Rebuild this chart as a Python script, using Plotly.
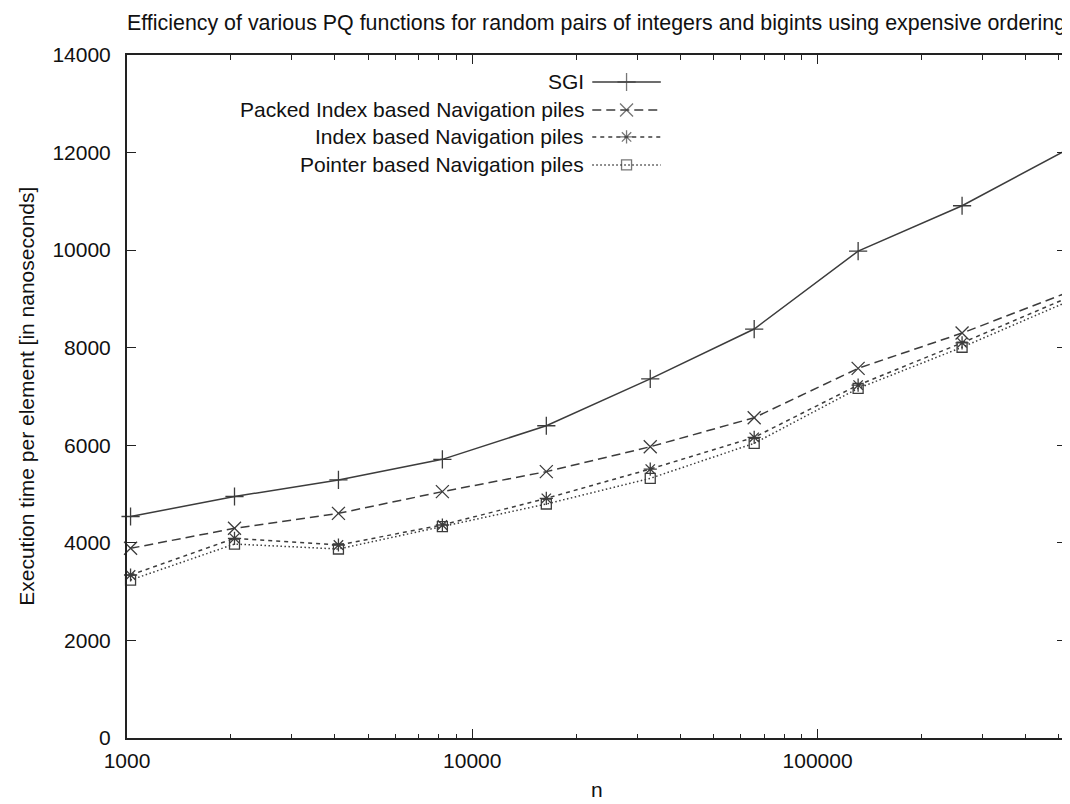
import plotly.graph_objects as go

# ---- data ----
n_values = [1024, 2048, 4096, 8192, 16384, 32768, 65536, 131072, 262144, 524288]
sgi = [4540, 4950, 5290, 5712, 6400, 7360, 8383, 9980, 10910, 12050]
packed_index = [3888, 4298, 4605, 5050, 5460, 5970, 6565, 7577, 8300, 9120]
index_based = [3341, 4093, 3956, 4366, 4913, 5513, 6163, 7235, 8100, 9010]
pointer_based = [3238, 3976, 3874, 4331, 4796, 5322, 6040, 7167, 8010, 8930]

series_names = ["SGI", "Packed Index based Navigation piles",
                "Index based Navigation piles", "Pointer based Navigation piles"]
series_values = [sgi, packed_index, index_based, pointer_based]

y_tick_vals = [0, 2000, 4000, 6000, 8000, 10000, 12000, 14000]
y_tick_labels = ["0", "2000", "4000", "6000", "8000", "10000", "12000", "14000"]
x_major_ticks = [1000, 10000, 100000]
x_tick_labels = ["1000", "10000", "100000"]
x_minor_ticks = [2000, 3000, 4000, 5000, 6000, 7000, 8000, 9000,
                 20000, 30000, 40000, 50000, 60000, 70000, 80000, 90000,
                 200000, 300000, 400000, 500000]

title_text = "Efficiency of various PQ functions for random pairs of integers and bigints using expensive ordering"
x_title = "n"
y_title = "Execution time per element [in nanoseconds]"

# ---- styles ----
FONT = "Liberation Sans, Arial, Helvetica, sans-serif"
FS = 21
COL = "#3c3c3c"
TXT = "#111"
styles = [
    dict(dash="solid", symbol="cross-thin-open", size=13),
    dict(dash="9px,5px", symbol="x-thin-open", size=13),
    dict(dash="4px,4px", symbol="asterisk-open", size=11),
    dict(dash="1.5px,2.5px", symbol="square-open", size=10),
]

# the page body has an 8px margin, so the figure is sized to fit the window
W, H = 1062, 796

fig = go.Figure()
for name, vals, st in zip(series_names, series_values, styles):
    fig.add_trace(go.Scatter(
        x=n_values, y=vals, name=name, mode="lines+markers",
        line=dict(color=COL, width=1.5, dash=st["dash"]),
        marker=dict(symbol=st["symbol"], size=st["size"], color=COL,
                    line=dict(color=COL, width=1.3)),
        showlegend=False, cliponaxis=False,
    ))

# ---- gnuplot-style legend (text left, sample right), on an overlay axis ----
leg_text_x = 0.489
leg_x0, leg_x1 = 0.4955, 0.5685
leg_rows = [0.9605, 0.9195, 0.880, 0.839]
for name, st, yr in zip(series_names, styles, leg_rows):
    fig.add_trace(go.Scatter(
        x=[leg_x0, (leg_x0 + leg_x1) / 2, leg_x1], y=[yr, yr, yr],
        xaxis="x2", yaxis="y2", mode="lines+markers",
        line=dict(color=COL, width=1.5, dash=st["dash"]),
        marker=dict(symbol=st["symbol"], size=[0, st["size"], 0], color=COL,
                    line=dict(color=COL, width=1.3)),
        showlegend=False, hoverinfo="skip", cliponaxis=False,
    ))
    fig.add_annotation(text=name, x=leg_text_x, y=yr, xref="paper", yref="paper",
                       xanchor="right", yanchor="middle", showarrow=False,
                       font=dict(family=FONT, size=FS, color=TXT))

# axis titles as annotations for exact placement
fig.add_annotation(text=x_title, x=0.5, y=-0.0761, xref="paper", yref="paper",
                   xanchor="center", yanchor="middle", showarrow=False,
                   font=dict(family=FONT, size=FS, color=TXT))
fig.add_annotation(text=y_title, x=-0.1073, y=0.5, xref="paper", yref="paper",
                   xanchor="center", yanchor="middle", textangle=-90, showarrow=False,
                   font=dict(family=FONT, size=FS, color=TXT))

axis_common = dict(showline=True, linecolor="#222", linewidth=2, mirror="allticks",
                   ticks="inside", tickcolor="#222", tickwidth=1.3, ticklen=9,
                   showgrid=False, zeroline=False,
                   tickfont=dict(family=FONT, size=FS, color=TXT))

fig.update_layout(
    width=W, height=H,
    margin=dict(l=119, r=2, t=47, b=66),
    paper_bgcolor="white", plot_bgcolor="white",
    font=dict(family=FONT, size=FS, color=TXT),
    title=dict(text=title_text, x=0.5, xref="paper", xanchor="center",
               y=1 - 14.5 / H, yanchor="middle",
               font=dict(family=FONT, size=21.4, color=TXT)),
    xaxis=dict(type="log", range=[3, 5.71953], tickmode="array",
               tickvals=x_major_ticks, ticktext=x_tick_labels,
               ticklabelstandoff=3,
               minor=dict(tickmode="array", tickvals=x_minor_ticks,
                          ticks="inside", ticklen=4.5, tickcolor="#222",
                          tickwidth=1.3, showgrid=False),
               **axis_common),
    yaxis=dict(range=[0, 14000], tickmode="array", tickvals=y_tick_vals,
               ticktext=y_tick_labels, ticklabelstandoff=10,
               **axis_common),
    xaxis2=dict(overlaying="x", range=[0, 1], visible=False),
    yaxis2=dict(overlaying="y", range=[0, 1], visible=False),
)

fig.write_html("out.html")
